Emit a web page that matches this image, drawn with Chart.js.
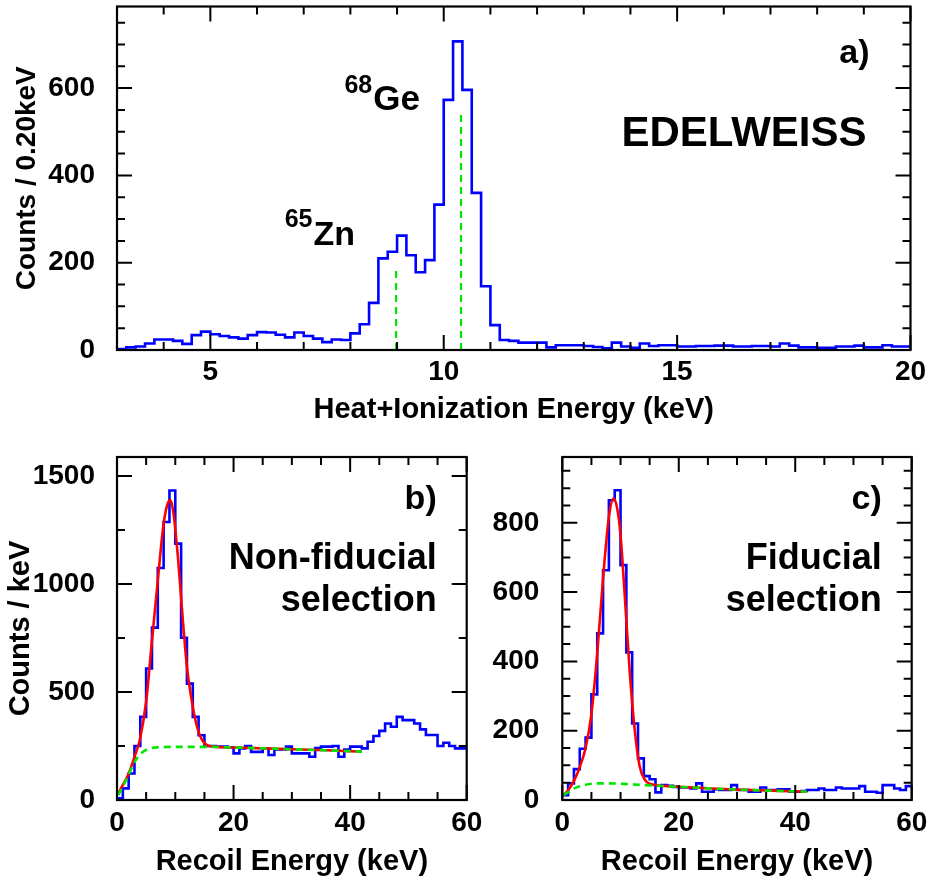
<!DOCTYPE html>
<html>
<head>
<meta charset="utf-8">
<script src="https://cdn.jsdelivr.net/npm/chart.js@4.4.1/dist/chart.umd.min.js"></script>
<style>
html, body { margin: 0; padding: 0; background: #fff; }
#page { position: relative; width: 930px; height: 884px; }
.panel { position: absolute; }
#boxA { left: 0; top: 0; width: 930px; height: 440px; }
#boxB { left: 0; top: 440px; width: 500px; height: 444px; }
#boxC { left: 480px; top: 440px; width: 450px; height: 444px; }
</style>
</head>
<body>
<div id="page">
  <div class="panel" id="boxA"><canvas id="chartA"></canvas></div>
  <div class="panel" id="boxB"><canvas id="chartB"></canvas></div>
  <div class="panel" id="boxC"><canvas id="chartC"></canvas></div>
</div>
<script>
// --- Panel a: heat+ionization spectrum, 0.2 keV bins from 3 keV ---
const binStartA = 3.0;
const binWidthA = 0.2;
const countsA = [
  2, 6, 8, 15, 24, 24, 21, 14, 34, 42,
  36, 32, 29, 26, 34, 41, 40, 35, 29, 40,
  32, 26, 18, 24, 23, 38, 59, 108, 210, 225,
  262, 217, 178, 206, 333, 573, 707, 596, 360, 146,
  57, 23, 21, 17, 17, 17, 6, 11, 11, 11,
  9, 7, 4, 17, 8, 5, 15, 9, 11, 11,
  8, 8, 9, 9, 10, 10, 8, 8, 9, 9,
  8, 15, 10, 6, 6, 5, 5, 8, 8, 10,
  6, 6, 11, 8, 8
];
const lineEnergiesA = [8.98, 10.37];
const lineHeightsA = [190, 550];
const xTicksA = [5, 10, 15, 20];
const yTicksA = [0, 200, 400, 600];

// --- Panel b: non-fiducial recoil spectrum, 1 keV bins ---
const binWidthBC = 1;
const countsB = [
  8, 54, 123, 250, 385, 609, 798, 1074, 1287, 1433,
  1187, 751, 539, 385, 300, 250, 250, 248, 248, 244,
  216, 239, 250, 223, 223, 239, 208, 234, 234, 247,
  216, 216, 216, 200, 240, 247, 247, 250, 200, 234,
  247, 247, 239, 270, 296, 320, 354, 339, 385, 370,
  370, 354, 327, 301, 301, 250, 265, 250, 239, 239
];
const fitEnergyB = [0.2, 1, 2, 3, 3.9, 5, 5.9, 7, 8, 8.8, 9.2, 9.7, 10.5, 11.3, 12, 13, 13.9, 15, 16.5, 20, 25, 30, 36, 42];
const fitCountsB = [28, 70, 122, 200, 277, 455, 709, 1017, 1279, 1379, 1387, 1325, 1110, 832, 617, 432, 324, 263, 247, 243, 239, 235, 230, 224];
const bgEnergyB = [0.2, 1, 2, 3, 4, 5, 6, 7, 10, 16, 20, 30, 42];
const bgCountsB = [22, 62, 118, 175, 212, 232, 241, 244, 246, 246, 243, 235, 224];

// --- Panel c: fiducial recoil spectrum, 1 keV bins ---
const countsC = [
  14, 48, 89, 148, 180, 305, 481, 663, 865, 894,
  678, 426, 221, 120, 69, 60, 22, 43, 41, 38,
  36, 36, 33, 48, 24, 24, 31, 29, 29, 43,
  29, 29, 24, 24, 36, 29, 29, 31, 31, 24,
  24, 26, 29, 29, 33, 29, 29, 36, 33, 33,
  33, 40, 24, 24, 21, 43, 43, 33, 29, 40
];
const fitEnergyC = [0.2, 1, 2, 3, 4, 5, 6, 7, 8, 8.8, 9.5, 10, 10.8, 11.6, 12.5, 13.3, 14.2, 15, 16, 18, 20, 25, 30, 36, 42];
const fitCountsC = [14, 28, 55, 95, 150, 248, 423, 640, 817, 870, 835, 765, 570, 365, 192, 96, 58, 47, 43, 40, 38, 34, 30, 27, 24];
const bgEnergyC = [0.2, 1, 2, 3, 4, 5, 6, 8, 10, 14, 20, 30, 42];
const bgCountsC = [14, 22, 33, 40, 44, 47, 48, 48, 47, 43, 38, 30, 24];

const xTicksBC = [0, 20, 40, 60];
const yTicksB = [0, 500, 1000, 1500];
const yTicksC = [0, 200, 400, 600, 800];

const FONT = '"Liberation Sans", Arial, Helvetica, sans-serif';
const BLUE = '#0000ff';
const RED = '#ff0000';
const GREEN = '#00e600';

// --- helpers ---
const histPoints = (start, width, counts) => {
    const pts = counts.map((c, i) => ({ x: start + i * width, y: c }));
    pts.push({ x: start + counts.length * width, y: counts[counts.length - 1] });
    return pts;
};
const curvePoints = (xs, ys) => xs.map((x, i) => ({ x: x, y: ys[i] }));

// bold text, right-aligned on x, returns its width
const note = (ctx, text, x, y, size) => {
    ctx.save();
    ctx.font = `bold ${size}px ${FONT}`;
    ctx.textAlign = 'right';
    ctx.textBaseline = 'alphabetic';
    ctx.fillStyle = '#000';
    ctx.fillText(text, x, y);
    const w = ctx.measureText(text).width;
    ctx.restore();
    return w;
};

const makeScale = (o) => ({
    type: 'linear',
    min: o.min,
    max: o.max,
    grid: { display: false, drawTicks: false },
    border: { display: false },
    ticks: {
        autoSkip: false,
        maxRotation: 0,
        padding: o.pad,
        color: '#000',
        font: { family: FONT, size: o.size, weight: 'bold' },
        callback: v => String(v)
    },
    afterBuildTicks: s => { s.ticks = o.ticks.map(v => ({ value: v })); },
    afterFit: s => {
        if (s.isHorizontal()) s.height = o.box; else s.width = o.box;
        // the frame position is fixed by the layout padding alone
        s.paddingTop = s.paddingBottom = s.paddingLeft = s.paddingRight = 0;
    },
    title: o.title ? {
        display: true,
        text: o.title,
        color: '#000',
        font: { family: FONT, size: o.titleSize, weight: 'bold' },
        padding: o.titlePad
    } : { display: false }
});

// frame with inward ticks on all four sides (ROOT style)
const frameTicks = {
    id: 'frameTicks',
    afterDatasetsDraw(chart, args, opts) {
        const { ctx, chartArea: a, scales: { x, y } } = chart;
        ctx.save();
        ctx.strokeStyle = '#000';
        ctx.lineWidth = 2.2;
        ctx.strokeRect(a.left, a.top, a.right - a.left, a.bottom - a.top);
        ctx.lineWidth = 2;
        ctx.beginPath();
        const xTick = (v, len) => {
            const px = x.getPixelForValue(v);
            ctx.moveTo(px, a.bottom); ctx.lineTo(px, a.bottom - len);
            ctx.moveTo(px, a.top); ctx.lineTo(px, a.top + len);
        };
        const yTick = (v, len) => {
            const py = y.getPixelForValue(v);
            ctx.moveTo(a.left, py); ctx.lineTo(a.left + len, py);
            ctx.moveTo(a.right, py); ctx.lineTo(a.right - len, py);
        };
        for (let v = Math.ceil(x.min / opts.xMinor - 1e-9) * opts.xMinor; v <= x.max + 1e-9; v += opts.xMinor) xTick(v, 8);
        for (let v = 0; v <= y.max + 1e-9; v += opts.yMinor) yTick(v, 8);
        opts.xMajor.forEach(v => xTick(v, 15));
        opts.yMajor.forEach(v => yTick(v, 15));
        ctx.stroke();
        ctx.restore();
    }
};

const baseOptions = (padding, scales, frame) => ({
    responsive: true,
    maintainAspectRatio: false,
    animation: false,
    layout: { padding: padding },
    elements: { point: { radius: 0 } },
    plugins: {
        legend: { display: false },
        tooltip: { enabled: false },
        frameTicks: frame
    },
    scales: scales
});

// --- Panel a ---
const datasetsA = [{
    data: histPoints(binStartA, binWidthA, countsA),
    borderColor: BLUE, borderWidth: 2.6, stepped: true, fill: false, order: 3
}];
lineEnergiesA.forEach((e, i) => {
    datasetsA.push({
        data: [{ x: e, y: 0 }, { x: e, y: lineHeightsA[i] }],
        borderColor: GREEN, borderWidth: 2.2, borderDash: [7, 5], fill: false, order: 1
    });
});

new Chart(document.getElementById('chartA'), {
    type: 'line',
    data: { datasets: datasetsA },
    options: baseOptions(
        { left: 0, top: 6.5, right: 19.5, bottom: 0 },
        {
            x: makeScale({ min: 3, max: 20, ticks: xTicksA, size: 28, pad: 5, box: 90,
                title: 'Heat+Ionization Energy (keV)', titleSize: 29, titlePad: { top: 0, bottom: 12.5 } }),
            y: makeScale({ min: 0, max: 787, ticks: yTicksA, size: 28, pad: 22, box: 117,
                title: 'Counts / 0.20keV', titleSize: 28, titlePad: { top: 10, bottom: 0 } })
        },
        { xMajor: xTicksA, xMinor: 1, yMajor: yTicksA, yMinor: 50 }
    ),
    plugins: [frameTicks, {
        id: 'notesA',
        afterDraw(chart) {
            const { ctx, chartArea: area, scales: { x, y } } = chart;
            note(ctx, 'a)', area.right - 41, area.top + 56, 34);
            note(ctx, 'EDELWEISS', area.right - 44, area.top + 139, 42);
            // isotope labels anchored next to their peaks
            let xr = x.getPixelForValue(9.49), yb = y.getPixelForValue(550);
            let w = note(ctx, 'Ge', xr, yb, 35);
            note(ctx, '68', xr - w - 1, yb - 17, 25);
            xr = x.getPixelForValue(8.1); yb = y.getPixelForValue(240);
            w = note(ctx, 'Zn', xr, yb, 34);
            note(ctx, '65', xr - w - 1, yb - 18, 25);
        }
    }]
});

// --- Panels b and c ---
const recoilDatasets = (counts, fitE, fitC, bgE, bgC) => [{
    data: histPoints(0, binWidthBC, counts),
    borderColor: BLUE, borderWidth: 2.6, stepped: true, fill: false, order: 3
}, {
    data: curvePoints(fitE, fitC),
    borderColor: RED, borderWidth: 2.6, cubicInterpolationMode: 'monotone', fill: false, order: 2
}, {
    data: curvePoints(bgE, bgC),
    borderColor: GREEN, borderWidth: 2.6, borderDash: [7, 5], cubicInterpolationMode: 'monotone', fill: false, order: 1
}];

const recoilNotes = (id, tag, line1) => ({
    id: id,
    afterDraw(chart) {
        const { ctx, chartArea: area } = chart;
        note(ctx, tag, area.right - 30, area.top + 52, 34);
        note(ctx, line1, area.right - 30, area.top + 112, 36);
        note(ctx, 'selection', area.right - 30, area.top + 154, 36);
    }
});

new Chart(document.getElementById('chartB'), {
    type: 'line',
    data: { datasets: recoilDatasets(countsB, fitEnergyB, fitCountsB, bgEnergyB, bgCountsB) },
    options: baseOptions(
        { left: 0, top: 17, right: 33.3, bottom: 0 },
        {
            x: makeScale({ min: 0, max: 60, ticks: xTicksBC, size: 28, pad: 6, box: 84,
                title: 'Recoil Energy (keV)', titleSize: 29, titlePad: { top: 0, bottom: 4.6 } }),
            y: makeScale({ min: 0, max: 1588, ticks: yTicksB, size: 28, pad: 22, box: 117,
                title: 'Counts / keV', titleSize: 29, titlePad: { top: 3.6, bottom: 0 } })
        },
        { xMajor: xTicksBC, xMinor: 5, yMajor: yTicksB, yMinor: 250 }
    ),
    plugins: [frameTicks, recoilNotes('notesB', 'b)', 'Non-fiducial')]
});

new Chart(document.getElementById('chartC'), {
    type: 'line',
    data: { datasets: recoilDatasets(countsC, fitEnergyC, fitCountsC, bgEnergyC, bgCountsC) },
    options: baseOptions(
        { left: 0, top: 17, right: 18.3, bottom: 0 },
        {
            x: makeScale({ min: 0, max: 60, ticks: xTicksBC, size: 28, pad: 6, box: 84,
                title: 'Recoil Energy (keV)', titleSize: 29, titlePad: { top: 0, bottom: 4.6 } }),
            y: makeScale({ min: 0, max: 990, ticks: yTicksC, size: 28, pad: 23, box: 82.3 })
        },
        { xMajor: xTicksBC, xMinor: 5, yMajor: yTicksC, yMinor: 50 }
    ),
    plugins: [frameTicks, recoilNotes('notesC', 'c)', 'Fiducial')]
});
</script>
</body>
</html>
